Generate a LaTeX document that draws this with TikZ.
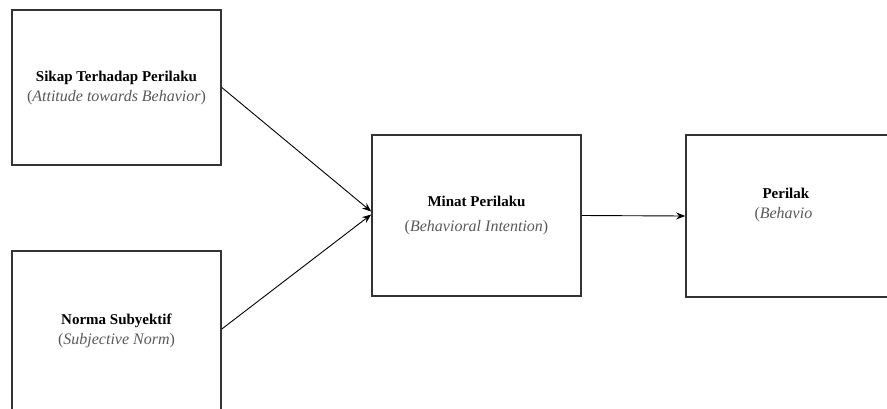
\documentclass[tikz,border=0pt]{standalone}
\usepackage{fontspec}
\setmainfont{Liberation Serif}
\usetikzlibrary{arrows.meta}
\newcommand{\engl}[1]{{\color{black!65}\fontsize{16}{20}\selectfont(\textit{#1})}}
\begin{document}
\begin{tikzpicture}[x=1pt,y=-1pt,
  box/.style={draw=black!80,line width=1.6pt,inner sep=0pt},
  txt/.style={align=center,font=\fontsize{15}{20}\selectfont},
  link/.style={line width=0.9pt,-{Stealth[length=9pt,width=7pt]}}]
\useasboundingbox (0,0) rectangle (887,408);
\clip (0,0) rectangle (887,408);
\node[box,minimum width=209pt,minimum height=155pt] (sikap) at (116.5,87.5) {};
\node[box,minimum width=209pt,minimum height=170pt] (norma) at (116.5,336) {};
\node[box,minimum width=209pt,minimum height=161pt] (minat) at (476.5,215.5) {};
\node[box,minimum width=220pt,minimum height=162pt] (perilaku) at (796,216) {};
\node[txt] (sikaptxt) at (sikap) {\textbf{Sikap Terhadap Perilaku}\\\engl{Attitude towards Behavior}};
\node[txt] (normatxt) at (116.5,331) {\textbf{Norma Subyektif}\\\engl{Subjective Norm}};
\node[txt,font=\fontsize{15}{25}\selectfont] (minattxt) at (minat) {\textbf{Minat Perilaku}\\\engl{Behavioral Intention}};
\node[txt,align=left,anchor=west] (perilakutxt) at (751,205) {\hspace*{8pt}\textbf{Perilak}\\{\color{black!65}\fontsize{16}{20}\selectfont(\textit{Behavio}}};
\draw[link] (sikap.east) -- ([yshift=4pt]minat.west);
\draw[link] (norma.east |- 0,329) -- ([yshift=1pt]minat.west);
\draw[link] (minat.east) -- (perilaku.west);
\end{tikzpicture}
\end{document}
